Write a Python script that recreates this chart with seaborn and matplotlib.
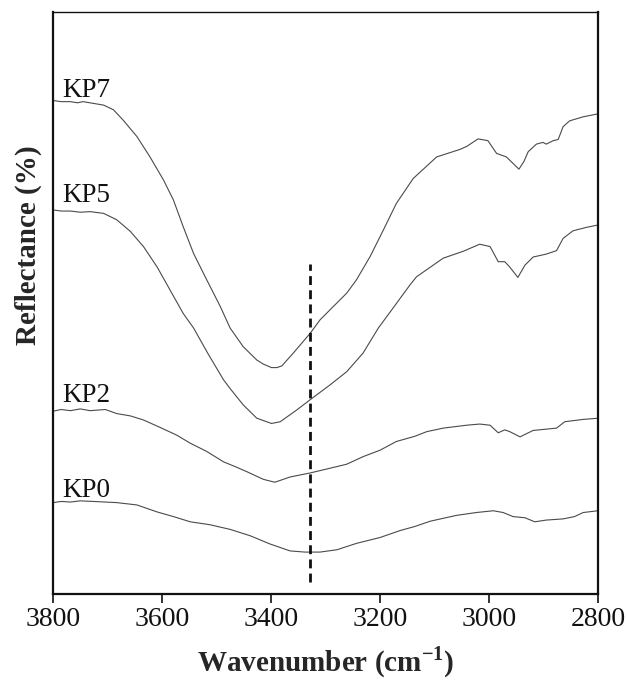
import numpy as np
import pandas as pd
import matplotlib
matplotlib.use("Agg")
import matplotlib.pyplot as plt
import seaborn as sns

# Spectra (wavenumber in cm^-1, reflectance in arbitrary offset units)
kp7_wn = [3800, 3785, 3768, 3755, 3745, 3732, 3707, 3689, 3671, 3646, 3622, 3597,
          3579, 3561, 3542, 3518, 3493, 3475, 3451, 3426, 3414, 3399, 3389, 3380,
          3359, 3328, 3310, 3292, 3261, 3243, 3218, 3194, 3170, 3139, 3096, 3053,
          3041, 3020, 3002, 2986, 2968, 2956, 2945, 2936, 2928, 2913, 2901, 2895,
          2882, 2873, 2864, 2852, 2827, 2800]
kp7_r = [84.8, 84.6, 84.6, 84.4, 84.6, 84.4, 84.0, 83.2, 81.4, 78.6, 75.1, 71.1,
         67.7, 63.1, 58.5, 54.0, 49.4, 45.7, 42.5, 40.2, 39.5, 38.9, 38.9, 39.2,
         41.4, 44.8, 47.1, 48.8, 51.7, 54.0, 58.0, 62.5, 67.1, 71.4, 75.1, 76.4,
         76.9, 78.2, 77.9, 75.7, 75.1, 74.0, 73.0, 74.3, 76.0, 77.3, 77.6, 77.3,
         77.9, 78.1, 80.3, 81.3, 82.0, 82.5]

kp5_wn = [3800, 3785, 3768, 3750, 3732, 3707, 3683, 3658, 3634, 3609, 3585, 3561,
          3542, 3515, 3487, 3475, 3451, 3426, 3399, 3383, 3353, 3325, 3292, 3261,
          3231, 3203, 3170, 3145, 3133, 3084, 3047, 3017, 2998, 2983, 2971, 2962,
          2947, 2934, 2919, 2895, 2876, 2864, 2846, 2821, 2800]
kp5_r = [66.0, 65.8, 65.8, 65.6, 65.7, 65.4, 64.3, 62.3, 59.7, 56.2, 52.2, 48.2,
         45.7, 41.2, 36.8, 35.3, 32.5, 30.2, 29.3, 29.6, 31.6, 33.6, 35.9, 38.2,
         41.4, 45.7, 49.9, 53.1, 54.5, 57.7, 58.9, 60.1, 59.7, 57.1, 57.1, 56.2,
         54.4, 56.5, 57.9, 58.4, 59.0, 61.1, 62.4, 63.0, 63.4]

kp2_wn = [3800, 3785, 3768, 3750, 3732, 3704, 3683, 3658, 3634, 3603, 3573, 3548,
          3518, 3487, 3466, 3444, 3414, 3393, 3365, 3328, 3292, 3261, 3231, 3200,
          3170, 3136, 3114, 3084, 3041, 3017, 2998, 2983, 2971, 2962, 2943, 2919,
          2876, 2861, 2827, 2800]
kp2_r = [31.4, 31.7, 31.5, 31.8, 31.5, 31.7, 31.0, 30.6, 29.9, 28.6, 27.3, 25.9,
         24.5, 22.7, 21.9, 21.0, 19.7, 19.2, 20.1, 20.8, 21.6, 22.3, 23.6, 24.7,
         26.2, 27.1, 27.9, 28.5, 29.0, 29.2, 29.0, 27.7, 28.2, 27.9, 27.0, 28.1,
         28.5, 29.6, 30.0, 30.2]

kp0_wn = [3800, 3785, 3768, 3750, 3726, 3683, 3646, 3609, 3579, 3548, 3512, 3475,
          3438, 3402, 3365, 3338, 3310, 3279, 3243, 3200, 3163, 3136, 3108, 3060,
          3023, 2992, 2974, 2956, 2934, 2916, 2895, 2864, 2843, 2827, 2800]
kp0_r = [15.7, 15.9, 15.8, 16.0, 15.9, 15.7, 15.3, 14.1, 13.3, 12.4, 11.9, 11.1,
         10.0, 8.6, 7.4, 7.2, 7.2, 7.6, 8.7, 9.7, 10.9, 11.6, 12.5, 13.5,
         14.0, 14.3, 14.0, 13.3, 13.1, 12.4, 12.7, 12.9, 13.3, 14.0, 14.3]

samples = ["KP7", "KP5", "KP2", "KP0"]
label_y = [85.4, 67.4, 33.0, 16.7]
marker_wn = 3328
marker_span = (2.0, 56.7)
x_ticks = [3800, 3600, 3400, 3200, 3000, 2800]

frames = []
for name, wn, r in zip(samples, [kp7_wn, kp5_wn, kp2_wn, kp0_wn],
                       [kp7_r, kp5_r, kp2_r, kp0_r]):
    frames.append(pd.DataFrame({"wavenumber": wn, "reflectance": r, "sample": name}))
df = pd.concat(frames, ignore_index=True)

sns.set_theme(style="ticks")
plt.rcParams["font.family"] = ["Liberation Serif", "DejaVu Serif"]
plt.rcParams["mathtext.fontset"] = "custom"
plt.rcParams["mathtext.rm"] = "Liberation Serif"
plt.rcParams["mathtext.bf"] = "Liberation Serif:bold"

fig = plt.figure(figsize=(6.27, 6.87), dpi=100)
ax = fig.add_axes([0.0845, 0.1354, 0.8692, 0.8471])

sns.lineplot(data=df, x="wavenumber", y="reflectance", hue="sample",
             palette={s: "#4a4a4a" for s in samples}, estimator=None,
             sort=False, linewidth=0.8, legend=False, ax=ax)

ax.vlines(marker_wn, *marker_span, colors="#111111", linestyles=(0, (3.2, 1.9)),
          linewidth=2.0)

for name, y in zip(samples, label_y):
    ax.text(3783, y, name, fontsize=19.5, ha="left", va="baseline", color="#111111")

ax.set_xlim(3800, 2800)
ax.set_ylim(0, 100)
ax.set_xticks(x_ticks)
ax.set_xticklabels([str(t) for t in x_ticks])
ax.set_yticks([])
ax.tick_params(axis="x", direction="out", length=6.5, width=1.2, labelsize=20,
               pad=3, colors="#111111")
for side in ["left", "right", "top", "bottom"]:
    ax.spines[side].set_visible(True)
    ax.spines[side].set_linewidth(1.6)
    ax.spines[side].set_color("#111111")
ax.spines["top"].set_linewidth(1.0)

ax.set_xlabel(r"Wavenumber (cm$^{\mathbf{-1}}$)", fontsize=21, fontweight="bold",
              labelpad=9)
ax.set_ylabel("Reflectance (%)", fontsize=21, fontweight="bold")
ax.yaxis.set_label_coords(-0.02, 0.60)

fig.savefig("out.png", dpi=100, facecolor="white")
